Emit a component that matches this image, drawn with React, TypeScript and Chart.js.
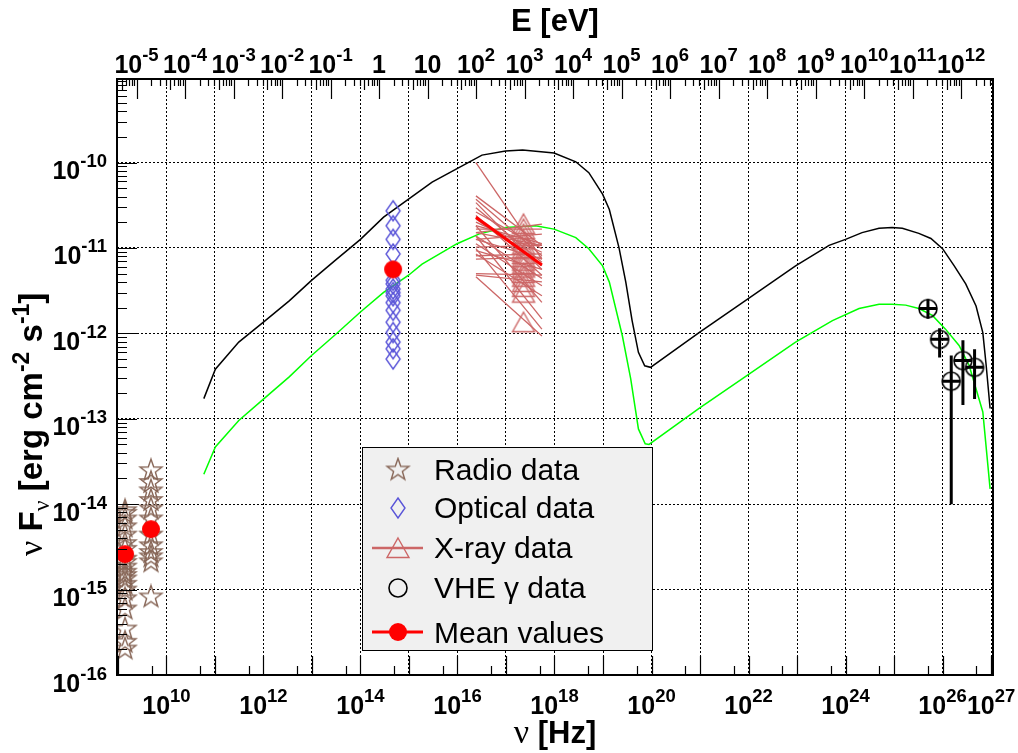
import React, { useEffect, useRef } from "react";
import { Chart, registerables } from "chart.js";

Chart.register(...registerables);

// ---------- axis ranges ----------
const PLANCK_EV_S = 4.135667e-15;
const NU_MIN = 9.57e8;
const NU_MAX = 1.096e27;
const FLUX_MIN = 1e-16;
const FLUX_MAX = 9.5e-10;

// ---------- model curves ----------
const modelHighNu = [5.9e10, 1.02e11, 3.1e11, 1e12, 3.4e12, 9.8e12, 3.1e13, 1e14, 3.0e14, 9.8e14, 3.0e15, 9.8e15, 3.2e16, 9.8e16, 2.2e17, 9.8e17, 2.75e18, 5.1e18, 9.8e18, 1.35e19, 2.14e19, 2.95e19, 3.98e19, 5.37e19, 7.24e19, 9.55e19, 9.55e20, 9.55e21, 9.33e22, 4.57e23, 1e24, 2.19e24, 4.9e24, 9.1e24, 1.48e25, 3.24e25, 5.75e25, 1e26, 1.74e26, 3.0e26, 4.9e26, 6.76e26, 7.94e26, 9.55e26];
const modelHighFlux = [1.72e-13, 3.8e-13, 7.9e-13, 1.35e-12, 2.4e-12, 4.17e-12, 7.24e-12, 1.26e-11, 2.29e-11, 3.72e-11, 5.89e-11, 8.5e-11, 1.22e-10, 1.36e-10, 1.4e-10, 1.29e-10, 1.02e-10, 7.6e-11, 4.27e-11, 2.82e-11, 1.0e-11, 3.98e-12, 1.41e-12, 6.0e-13, 4.17e-13, 4.0e-13, 1.02e-12, 2.51e-12, 6.17e-12, 1.07e-11, 1.26e-11, 1.51e-11, 1.7e-11, 1.74e-11, 1.7e-11, 1.48e-11, 1.29e-11, 9.8e-12, 6.17e-12, 3.8e-12, 2.09e-12, 1.02e-12, 4.17e-13, 1.32e-13];

const modelLowNu = [5.9e10, 1.02e11, 3.1e11, 1e12, 3.4e12, 9.8e12, 3.1e13, 1e14, 3.0e14, 9.8e14, 1.86e15, 9.8e15, 2.75e16, 9.8e16, 4.07e17, 9.8e17, 2.75e18, 5.1e18, 9.8e18, 1.35e19, 2.51e19, 3.72e19, 5.37e19, 7.41e19, 8.9e19, 9.55e20, 9.55e21, 9.33e22, 5.37e23, 1.9e24, 4.9e24, 9.1e24, 1.74e25, 3.24e25, 6.17e25, 1.15e26, 2.19e26, 3.55e26, 6.76e26, 9.55e26];
const modelLowFlux = [2.24e-14, 4.68e-14, 9.55e-14, 1.7e-13, 3.09e-13, 5.5e-13, 9.77e-13, 1.78e-12, 3.02e-12, 4.79e-12, 6.46e-12, 1.12e-11, 1.45e-11, 1.74e-11, 1.82e-11, 1.66e-11, 1.32e-11, 9.8e-12, 6.17e-12, 3.98e-12, 9.3e-13, 2.95e-13, 7.6e-14, 5.1e-14, 5.0e-14, 1.32e-13, 3.24e-13, 7.9e-13, 1.41e-12, 1.95e-12, 2.19e-12, 2.19e-12, 2.14e-12, 1.95e-12, 1.62e-12, 1.12e-12, 7.2e-13, 4.17e-13, 1.2e-13, 1.51e-14];

// ---------- radio ----------
const radioNu14 = 1.4e9;
const radioNu48 = 4.8e9;
const radio14Flux = [8.5e-15, 7.9e-15, 6.8e-15, 5.5e-15, 4.4e-15, 3.5e-15, 3.0e-15, 2.3e-15, 2.1e-15, 1.86e-15, 1.62e-15, 1.48e-15, 1.35e-15, 1.17e-15, 1.0e-15, 7.9e-16, 6.0e-16, 3.5e-16, 2.45e-16, 2.04e-16];
const radio48Flux = [2.5e-14, 1.82e-14, 1.45e-14, 1.12e-14, 8.9e-15, 6.8e-15, 4.4e-15, 3.3e-15, 2.75e-15, 2.45e-15, 2.14e-15, 8.3e-16];

// ---------- optical ----------
const opticalNu = 4.7e14;
const opticalFlux = [2.72e-11, 1.82e-11, 1.26e-11, 8.5e-12, 4.17e-12, 3.8e-12, 3.3e-12, 3.0e-12, 2.75e-12, 2.29e-12, 1.86e-12, 1.35e-12, 1.02e-12, 7.9e-13, 6.6e-13, 5.0e-13];

// ---------- X-ray ----------
const xrayNuLow = 2.4e16;
const xrayNuHigh = 5.5e17;
const xrayNuMid = 2.3e17;
const xrayFluxLow = [1.0e-10, 4.07e-11, 3.72e-11, 3.39e-11, 2.95e-11, 2.63e-11, 2.4e-11, 2.19e-11, 2.0e-11, 1.82e-11, 1.66e-11, 1.51e-11, 1.38e-11, 1.26e-11, 1.12e-11, 1.02e-11, 9.3e-12, 8.1e-12, 8.5e-12, 5.0e-12, 4.8e-12, 4.6e-12, 1.82e-11, 1.38e-11, 9.8e-12, 1.51e-11, 1.26e-11, 7.4e-12];
const xrayFluxHigh = [7.4e-12, 1.07e-11, 8.1e-12, 5.6e-12, 6.8e-12, 9.8e-12, 4.8e-12, 6.2e-12, 8.9e-12, 1.12e-11, 1.66e-11, 1.07e-11, 4.4e-12, 7.4e-12, 3.6e-12, 1.07e-11, 5.6e-12, 8.5e-12, 2.75e-12, 4.8e-12, 4.0e-12, 9.3e-13, 2.3e-12, 1.48e-12, 1.12e-12, 1.9e-11, 1.45e-11, 7.8e-12];
const xrayTriangleFlux = [1.9e-11, 1.66e-11, 1.45e-11, 1.26e-11, 1.1e-11, 9.8e-12, 8.5e-12, 7.8e-12, 7.1e-12, 6.5e-12, 5.9e-12, 5.1e-12, 4.6e-12, 4.0e-12, 3.5e-12, 3.0e-12, 1.35e-12];

// ---------- VHE ----------
const vheNu = [5.0e25, 8.7e25, 1.51e26, 2.63e26, 4.57e26];
const vheFlux = [1.95e-12, 8.5e-13, 2.75e-13, 4.8e-13, 4.0e-13];
const vheFluxHi = [2.5e-12, 1.15e-12, 5.5e-13, 8.3e-13, 6.5e-13];
const vheFluxLo = [1.48e-12, 5.2e-13, 1.0e-14, 1.45e-13, 1.7e-13];

// ---------- mean values ----------
const meanNu = [1.4e9, 4.8e9, 4.7e14];
const meanFlux = [2.6e-15, 5.1e-15, 5.6e-12];
const meanXrayNu = [2.4e16, 5.5e17];
const meanXrayFlux = [2.29e-11, 6.3e-12];

// ---------- ticks / labels ----------
const gridNuExp = [9, 10, 11, 12, 13, 14, 15, 16, 17, 18, 19, 20, 21, 22, 23, 24, 25, 26, 27];
const gridFluxExp = [-16, -15, -14, -13, -12, -11, -10];
const bottomLabelExp = [10, 12, 14, 16, 18, 20, 22, 24, 26, 27];
const topLabelExp = [-5, -4, -3, -2, -1, 0, 1, 2, 3, 4, 5, 6, 7, 8, 9, 10, 11, 12];
const leftLabelExp = [-16, -15, -14, -13, -12, -11, -10];
const legendLabels = ["Radio data", "Optical data", "X-ray data", "VHE \u03b3 data", "Mean values"];

// ---------- styles ----------
const SANS = '"Liberation Sans", Arial, Helvetica, sans-serif';
const SERIF = '"Liberation Serif", "Times New Roman", serif';
const RADIO_COLOR = "#876657";
const OPT_COLOR = "#5954d8";
const XRAY_COLOR = "#cc6666";
const LOW_COLOR = "#00ff00";

function makeMarker(w: number, h: number, draw: (c: CanvasRenderingContext2D) => void) {
  const cv = document.createElement("canvas");
  cv.width = w;
  cv.height = h;
  const c = cv.getContext("2d")!;
  draw(c);
  return cv;
}

function starPath(c: CanvasRenderingContext2D, cx: number, cy: number, R: number, r: number) {
  c.beginPath();
  for (let i = 0; i < 10; i++) {
    const a = -Math.PI / 2 + (i * Math.PI) / 5;
    const rr = i % 2 === 0 ? R : r;
    const px = cx + rr * Math.cos(a);
    const py = cy + rr * Math.sin(a);
    if (i === 0) c.moveTo(px, py);
    else c.lineTo(px, py);
  }
  c.closePath();
}

function drawPow(ctx: CanvasRenderingContext2D, base: string, exp: string | null, x: number, y: number, align: "center" | "right") {
  const bf = `bold 25px ${SANS}`;
  const ef = `bold 18.5px ${SANS}`;
  ctx.font = bf;
  const wb = ctx.measureText(base).width;
  let we = 0;
  if (exp !== null) {
    ctx.font = ef;
    we = ctx.measureText(exp).width;
  }
  const total = wb + we;
  const x0 = align === "center" ? x - total / 2 : x - total;
  ctx.textAlign = "left";
  ctx.textBaseline = "alphabetic";
  ctx.font = bf;
  ctx.fillText(base, x0, y);
  if (exp !== null) {
    ctx.font = ef;
    ctx.fillText(exp, x0 + wb, y - 12);
  }
}

type Seg = { t: string; font: string; dy: number };
function segsWidth(ctx: CanvasRenderingContext2D, segs: Seg[]) {
  let w = 0;
  for (const s of segs) {
    ctx.font = s.font;
    w += ctx.measureText(s.t).width;
  }
  return w;
}
function drawSegs(ctx: CanvasRenderingContext2D, segs: Seg[], x: number, y: number) {
  let cx = x;
  ctx.textAlign = "left";
  ctx.textBaseline = "alphabetic";
  for (const s of segs) {
    ctx.font = s.font;
    ctx.fillText(s.t, cx, y + s.dy);
    cx += ctx.measureText(s.t).width;
  }
}

export default function App() {
  const ref = useRef<HTMLCanvasElement>(null);

  useEffect(() => {
    const canvas = ref.current!;

    const starImg = makeMarker(26, 26, (c) => {
      starPath(c, 13, 13.5, 11.5, 4.6);
      c.strokeStyle = RADIO_COLOR;
      c.lineWidth = 1.4;
      c.stroke();
    });
    const diamondImg = makeMarker(18, 24, (c) => {
      c.beginPath();
      c.moveTo(9, 2);
      c.lineTo(16, 12);
      c.lineTo(9, 22);
      c.lineTo(2, 12);
      c.closePath();
      c.strokeStyle = OPT_COLOR;
      c.lineWidth = 1.4;
      c.stroke();
    });
    const triImg = makeMarker(26, 24, (c) => {
      c.beginPath();
      c.moveTo(13, 2);
      c.lineTo(24, 21.5);
      c.lineTo(2, 21.5);
      c.closePath();
      c.strokeStyle = XRAY_COLOR;
      c.lineWidth = 1.4;
      c.stroke();
    });
    const circImg = makeMarker(24, 24, (c) => {
      c.beginPath();
      c.arc(12, 12, 9, 0, Math.PI * 2);
      c.strokeStyle = "#000";
      c.lineWidth = 1.6;
      c.stroke();
    });
    const dotImg = makeMarker(22, 22, (c) => {
      c.beginPath();
      c.arc(11, 11, 9, 0, Math.PI * 2);
      c.fillStyle = "#ff0000";
      c.fill();
    });

    const datasets: any[] = [];
    datasets.push({
      data: meanNu.map((x, i) => ({ x, y: meanFlux[i] })),
      pointStyle: dotImg, pointRadius: 10, showLine: false, order: 0,
    });
    datasets.push({
      data: meanXrayNu.map((x, i) => ({ x, y: meanXrayFlux[i] })),
      showLine: true, borderColor: "#ff0000", borderWidth: 3, pointRadius: 0, order: 1,
    });
    datasets.push({
      data: vheNu.map((x, i) => ({ x, y: vheFlux[i] })),
      pointStyle: circImg, pointRadius: 10, showLine: false, order: 2,
    });
    datasets.push({
      data: xrayTriangleFlux.map((y) => ({ x: xrayNuMid, y })),
      pointStyle: triImg, pointRadius: 10, showLine: false, order: 3,
    });
    datasets.push({
      data: opticalFlux.map((y) => ({ x: opticalNu, y })),
      pointStyle: diamondImg, pointRadius: 10, showLine: false, order: 4,
    });
    datasets.push({
      data: [
        ...radio14Flux.map((y) => ({ x: radioNu14, y })),
        ...radio48Flux.map((y) => ({ x: radioNu48, y })),
      ],
      pointStyle: starImg, pointRadius: 10, showLine: false, order: 5,
    });
    xrayFluxLow.forEach((lo, i) => {
      datasets.push({
        data: [{ x: xrayNuLow, y: lo }, { x: xrayNuHigh, y: xrayFluxHigh[i] }],
        showLine: true, borderColor: XRAY_COLOR, borderWidth: 1.3, pointRadius: 0, order: 6,
      });
    });
    datasets.push({
      data: modelLowNu.map((x, i) => ({ x, y: modelLowFlux[i] })),
      showLine: true, borderColor: LOW_COLOR, borderWidth: 1.5, pointRadius: 0, order: 7,
    });
    datasets.push({
      data: modelHighNu.map((x, i) => ({ x, y: modelHighFlux[i] })),
      showLine: true, borderColor: "#000", borderWidth: 1.5, pointRadius: 0, order: 8,
    });

    const rootPlugin = {
      id: "rootStyle",
      afterDatasetsDraw(chart: any) {
        const ctx: CanvasRenderingContext2D = chart.ctx;
        const xs = chart.scales.x;
        const ys = chart.scales.y;
        ctx.save();
        ctx.strokeStyle = "#000";
        ctx.lineWidth = 3;
        ctx.beginPath();
        vheNu.forEach((nu, i) => {
          const x = xs.getPixelForValue(nu);
          const y = ys.getPixelForValue(vheFlux[i]);
          ctx.moveTo(x, ys.getPixelForValue(vheFluxHi[i]));
          ctx.lineTo(x, ys.getPixelForValue(vheFluxLo[i]));
          ctx.moveTo(x - 9, y);
          ctx.lineTo(x + 9, y);
        });
        ctx.stroke();
        ctx.restore();
      },
      afterDraw(chart: any) {
        const ctx: CanvasRenderingContext2D = chart.ctx;
        const xs = chart.scales.x;
        const ys = chart.scales.y;
        const { left, right, top, bottom } = chart.chartArea;
        ctx.save();

        // ticks
        ctx.strokeStyle = "#000";
        ctx.lineWidth = 1.2;
        ctx.beginPath();
        for (const n of gridNuExp) {
          for (const k of [1, 5]) {
            const v = k * Math.pow(10, n);
            if (v < NU_MIN || v > NU_MAX) continue;
            const x = Math.round(xs.getPixelForValue(v)) + 0.5;
            const len = k === 1 ? 19 : 9;
            ctx.moveTo(x, bottom);
            ctx.lineTo(x, bottom - len);
          }
        }
        for (let m = -6; m <= 12; m++) {
          for (let k = 1; k <= 9; k++) {
            const nu = (k * Math.pow(10, m)) / PLANCK_EV_S;
            if (nu < NU_MIN || nu > NU_MAX) continue;
            const x = Math.round(xs.getPixelForValue(nu)) + 0.5;
            const len = k === 1 ? 20 : k === 5 ? 11 : 7;
            ctx.moveTo(x, top);
            ctx.lineTo(x, top + len);
          }
        }
        for (let n = -16; n <= -9; n++) {
          for (let k = 1; k <= 9; k++) {
            const v = k * Math.pow(10, n);
            if (v < FLUX_MIN || v > FLUX_MAX) continue;
            const y = Math.round(ys.getPixelForValue(v)) + 0.5;
            const len = k === 1 ? 20 : 10;
            ctx.moveTo(left, y);
            ctx.lineTo(left + len, y);
          }
        }
        ctx.stroke();

        // frame
        ctx.lineWidth = 2;
        ctx.strokeRect(left, top, right - left, bottom - top);

        // tick labels
        ctx.fillStyle = "#000";
        for (const n of bottomLabelExp) {
          const x = xs.getPixelForValue(Math.pow(10, n));
          drawPow(ctx, "10", String(n), x, bottom + 39, "center");
        }
        for (const m of topLabelExp) {
          const x = xs.getPixelForValue(Math.pow(10, m) / PLANCK_EV_S);
          if (m === 0) drawPow(ctx, "1", null, x, top - 6, "center");
          else if (m === 1) drawPow(ctx, "10", null, x, top - 6, "center");
          else drawPow(ctx, "10", String(m), x, top - 6, "center");
        }
        for (const n of leftLabelExp) {
          const y = ys.getPixelForValue(Math.pow(10, n));
          drawPow(ctx, "10", String(n), left - 10, y + 16.5, "right");
        }

        // axis titles
        const TB = `bold 31px ${SANS}`;
        const G = `32px ${SERIF}`;
        const topTitle: Seg[] = [{ t: "E [eV]", font: TB, dy: 0 }];
        const tw = segsWidth(ctx, topTitle);
        drawSegs(ctx, topTitle, (left + right) / 2 - tw / 2, 31);

        const xTitle: Seg[] = [
          { t: "\u03bd", font: `34px ${SERIF}`, dy: 0 },
          { t: " [Hz]", font: TB, dy: 0 },
        ];
        const xw = segsWidth(ctx, xTitle);
        drawSegs(ctx, xTitle, (left + right) / 2 - xw / 2, 743);

        const YB = `bold 33px ${SANS}`;
        const YS = `bold 23px ${SANS}`;
        const yTitle: Seg[] = [
          { t: "\u03bd", font: `34px ${SERIF}`, dy: 0 },
          { t: " F", font: YB, dy: 0 },
          { t: "\u03bd", font: `24px ${SERIF}`, dy: 7 },
          { t: " [erg cm", font: YB, dy: 0 },
          { t: "-2", font: YS, dy: -13 },
          { t: " s", font: YB, dy: 0 },
          { t: "-1", font: YS, dy: -13 },
          { t: "]", font: YB, dy: 0 },
        ];
        ctx.save();
        ctx.translate(42, 556);
        ctx.rotate(-Math.PI / 2);
        drawSegs(ctx, yTitle, 0, 0);
        ctx.restore();

        // legend
        const lx = 362, ly = 447, lw = 290, lh = 203;
        ctx.fillStyle = "#f0f0f0";
        ctx.fillRect(lx, ly, lw, lh);
        ctx.strokeStyle = "#000";
        ctx.lineWidth = 1;
        ctx.strokeRect(lx + 0.5, ly + 0.5, lw, lh);
        const symX = 398;
        const rowsY = [470, 508, 548, 588, 632];
        const baseY = [480, 518, 558, 598, 643];
        ctx.drawImage(starImg, symX - 13, rowsY[0] - 13.5);
        ctx.drawImage(diamondImg, symX - 9, rowsY[1] - 12);
        ctx.strokeStyle = XRAY_COLOR;
        ctx.lineWidth = 2.5;
        ctx.beginPath();
        ctx.moveTo(372, rowsY[2]);
        ctx.lineTo(423, rowsY[2]);
        ctx.stroke();
        ctx.drawImage(triImg, symX - 13, rowsY[2] - 12);
        ctx.drawImage(circImg, symX - 12, rowsY[3] - 12);
        ctx.strokeStyle = "#ff0000";
        ctx.lineWidth = 3;
        ctx.beginPath();
        ctx.moveTo(372, rowsY[4]);
        ctx.lineTo(423, rowsY[4]);
        ctx.stroke();
        ctx.drawImage(dotImg, symX - 11, rowsY[4] - 11);
        ctx.fillStyle = "#000";
        ctx.font = `30px ${SANS}`;
        ctx.textAlign = "left";
        ctx.textBaseline = "alphabetic";
        legendLabels.forEach((s, i) => ctx.fillText(s, 434, baseY[i]));

        ctx.restore();
      },
    };

    const chart = new Chart(canvas, {
      type: "scatter",
      data: { datasets },
      options: {
        animation: false,
        responsive: false,
        maintainAspectRatio: false,
        events: [],
        layout: { padding: { left: 117, top: 79, right: 25, bottom: 78 } },
        plugins: { legend: { display: false }, tooltip: { enabled: false } },
        scales: {
          x: {
            type: "logarithmic",
            min: NU_MIN,
            max: NU_MAX,
            position: "bottom",
            afterBuildTicks: (ax: any) => {
              ax.ticks = gridNuExp.map((n) => ({ value: Math.pow(10, n) }));
            },
            afterFit: (ax: any) => {
              ax.height = 0;
            },
            ticks: { display: false },
            grid: { color: "#000", lineWidth: 1, drawTicks: false, tickLength: 0 },
            border: { display: false, dash: [2, 2] },
          },
          y: {
            type: "logarithmic",
            min: FLUX_MIN,
            max: FLUX_MAX,
            position: "left",
            afterBuildTicks: (ax: any) => {
              ax.ticks = gridFluxExp.map((n) => ({ value: Math.pow(10, n) }));
            },
            afterFit: (ax: any) => {
              ax.width = 0;
            },
            ticks: { display: false },
            grid: { color: "#000", lineWidth: 1, drawTicks: false, tickLength: 0 },
            border: { display: false, dash: [2, 2] },
          },
        },
      } as any,
      plugins: [rootPlugin],
    });

    return () => chart.destroy();
  }, []);

  return (
    <div style={{ position: "absolute", left: 0, top: 0, width: 1018, height: 753 }}>
      <canvas ref={ref} width={1018} height={753} style={{ width: 1018, height: 753, display: "block" }} />
    </div>
  );
}
